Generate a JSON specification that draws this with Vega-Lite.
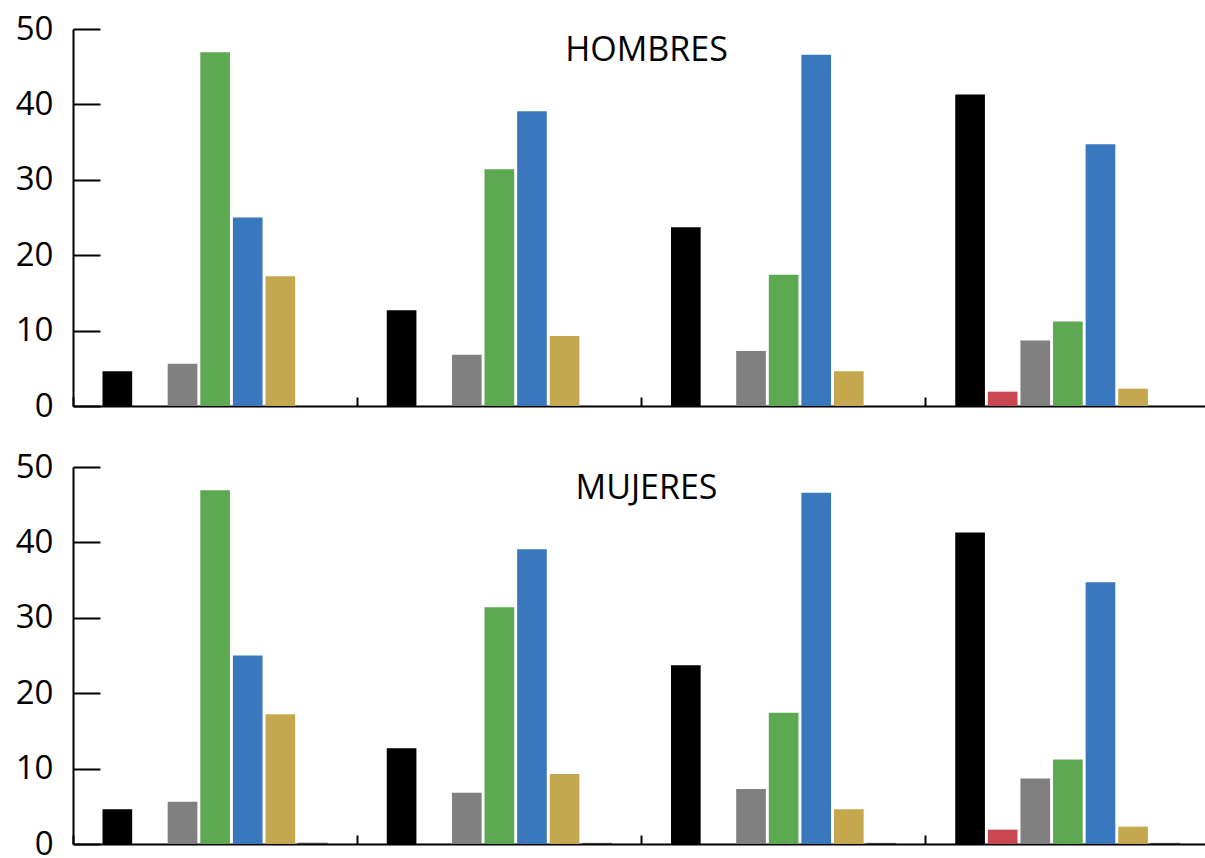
{
  "$schema": "https://vega.github.io/schema/vega-lite/v6.json",
  "padding": {"left": 15, "top": 13, "right": 0, "bottom": 0},
  "background": "white",
  "config": {
    "view": {"stroke": null},
    "font": "Open Sans",
    "concat": {"spacing": 28},
    "axis": {"domainColor": "black", "tickColor": "black", "labelColor": "black", "domainWidth": 2, "tickWidth": 2, "grid": false}
  },
  "datasets": {
    "d": [
      {"panel": "HOMBRES", "grupo": "G1", "cat": "A", "valor": 4.6},
      {"panel": "HOMBRES", "grupo": "G1", "cat": "B", "valor": 0},
      {"panel": "HOMBRES", "grupo": "G1", "cat": "C", "valor": 5.6},
      {"panel": "HOMBRES", "grupo": "G1", "cat": "D", "valor": 46.9},
      {"panel": "HOMBRES", "grupo": "G1", "cat": "E", "valor": 25.0},
      {"panel": "HOMBRES", "grupo": "G1", "cat": "F", "valor": 17.2},
      {"panel": "HOMBRES", "grupo": "G1", "cat": "G", "valor": 0},
      {"panel": "HOMBRES", "grupo": "G2", "cat": "A", "valor": 12.7},
      {"panel": "HOMBRES", "grupo": "G2", "cat": "B", "valor": 0},
      {"panel": "HOMBRES", "grupo": "G2", "cat": "C", "valor": 6.8},
      {"panel": "HOMBRES", "grupo": "G2", "cat": "D", "valor": 31.4},
      {"panel": "HOMBRES", "grupo": "G2", "cat": "E", "valor": 39.1},
      {"panel": "HOMBRES", "grupo": "G2", "cat": "F", "valor": 9.3},
      {"panel": "HOMBRES", "grupo": "G2", "cat": "G", "valor": 0},
      {"panel": "HOMBRES", "grupo": "G3", "cat": "A", "valor": 23.7},
      {"panel": "HOMBRES", "grupo": "G3", "cat": "B", "valor": 0},
      {"panel": "HOMBRES", "grupo": "G3", "cat": "C", "valor": 7.3},
      {"panel": "HOMBRES", "grupo": "G3", "cat": "D", "valor": 17.4},
      {"panel": "HOMBRES", "grupo": "G3", "cat": "E", "valor": 46.6},
      {"panel": "HOMBRES", "grupo": "G3", "cat": "F", "valor": 4.6},
      {"panel": "HOMBRES", "grupo": "G3", "cat": "G", "valor": 0},
      {"panel": "HOMBRES", "grupo": "G4", "cat": "A", "valor": 41.3},
      {"panel": "HOMBRES", "grupo": "G4", "cat": "B", "valor": 1.9},
      {"panel": "HOMBRES", "grupo": "G4", "cat": "C", "valor": 8.7},
      {"panel": "HOMBRES", "grupo": "G4", "cat": "D", "valor": 11.2},
      {"panel": "HOMBRES", "grupo": "G4", "cat": "E", "valor": 34.7},
      {"panel": "HOMBRES", "grupo": "G4", "cat": "F", "valor": 2.3},
      {"panel": "HOMBRES", "grupo": "G4", "cat": "G", "valor": 0},
      {"panel": "MUJERES", "grupo": "G1", "cat": "A", "valor": 4.6},
      {"panel": "MUJERES", "grupo": "G1", "cat": "B", "valor": 0},
      {"panel": "MUJERES", "grupo": "G1", "cat": "C", "valor": 5.6},
      {"panel": "MUJERES", "grupo": "G1", "cat": "D", "valor": 46.9},
      {"panel": "MUJERES", "grupo": "G1", "cat": "E", "valor": 25.0},
      {"panel": "MUJERES", "grupo": "G1", "cat": "F", "valor": 17.2},
      {"panel": "MUJERES", "grupo": "G1", "cat": "G", "valor": 0.15},
      {"panel": "MUJERES", "grupo": "G2", "cat": "A", "valor": 12.7},
      {"panel": "MUJERES", "grupo": "G2", "cat": "B", "valor": 0},
      {"panel": "MUJERES", "grupo": "G2", "cat": "C", "valor": 6.8},
      {"panel": "MUJERES", "grupo": "G2", "cat": "D", "valor": 31.4},
      {"panel": "MUJERES", "grupo": "G2", "cat": "E", "valor": 39.1},
      {"panel": "MUJERES", "grupo": "G2", "cat": "F", "valor": 9.3},
      {"panel": "MUJERES", "grupo": "G2", "cat": "G", "valor": 0.15},
      {"panel": "MUJERES", "grupo": "G3", "cat": "A", "valor": 23.7},
      {"panel": "MUJERES", "grupo": "G3", "cat": "B", "valor": 0},
      {"panel": "MUJERES", "grupo": "G3", "cat": "C", "valor": 7.3},
      {"panel": "MUJERES", "grupo": "G3", "cat": "D", "valor": 17.4},
      {"panel": "MUJERES", "grupo": "G3", "cat": "E", "valor": 46.6},
      {"panel": "MUJERES", "grupo": "G3", "cat": "F", "valor": 4.6},
      {"panel": "MUJERES", "grupo": "G3", "cat": "G", "valor": 0.15},
      {"panel": "MUJERES", "grupo": "G4", "cat": "A", "valor": 41.3},
      {"panel": "MUJERES", "grupo": "G4", "cat": "B", "valor": 1.9},
      {"panel": "MUJERES", "grupo": "G4", "cat": "C", "valor": 8.7},
      {"panel": "MUJERES", "grupo": "G4", "cat": "D", "valor": 11.2},
      {"panel": "MUJERES", "grupo": "G4", "cat": "E", "valor": 34.7},
      {"panel": "MUJERES", "grupo": "G4", "cat": "F", "valor": 2.3},
      {"panel": "MUJERES", "grupo": "G4", "cat": "G", "valor": 0.15}
    ]
  },
  "vconcat": [
    {
      "data": {"name": "d"},
      "transform": [{"filter": "datum.panel === 'HOMBRES'"}],
      "title": {"text": "HOMBRES", "offset": -55, "fontSize": 34, "fontWeight": "normal", "color": "black", "font": "Open Sans", "dx": 5},
      "width": 1137,
      "height": 377,
      "mark": {"type": "bar"},
      "encoding": {
        "x": {"field": "grupo", "type": "nominal", "sort": null,
              "scale": {"paddingInner": 0, "paddingOuter": 0},
              "axis": {"title": null, "labels": false, "bandPosition": 0, "tickSize": -9}},
        "xOffset": {"field": "cat", "type": "nominal",
                    "scale": {"domain": ["A", "B", "C", "D", "E", "F", "G"], "paddingInner": 0.09, "paddingOuter": 0.905}},
        "y": {"field": "valor", "type": "quantitative",
              "scale": {"domain": [0, 50], "nice": false},
              "axis": {"title": null, "values": [0, 10, 20, 30, 40, 50], "tickSize": -27, "labelPadding": 47, "labelFontSize": 33}},
        "color": {"field": "cat", "type": "nominal", "legend": null,
                  "scale": {"domain": ["A", "B", "C", "D", "E", "F", "G"],
                            "range": ["#000000", "#c84750", "#808080", "#5da952", "#3a78bd", "#c4a84f", "#404040"]}}
      }
    },
    {
      "data": {"name": "d"},
      "transform": [{"filter": "datum.panel === 'MUJERES'"}],
      "title": {"text": "MUJERES", "offset": -55, "fontSize": 34, "fontWeight": "normal", "color": "black", "font": "Open Sans", "dx": 5},
      "width": 1137,
      "height": 377,
      "mark": {"type": "bar"},
      "encoding": {
        "x": {"field": "grupo", "type": "nominal", "sort": null,
              "scale": {"paddingInner": 0, "paddingOuter": 0},
              "axis": {"title": null, "labels": false, "bandPosition": 0, "tickSize": -9}},
        "xOffset": {"field": "cat", "type": "nominal",
                    "scale": {"domain": ["A", "B", "C", "D", "E", "F", "G"], "paddingInner": 0.09, "paddingOuter": 0.905}},
        "y": {"field": "valor", "type": "quantitative",
              "scale": {"domain": [0, 50], "nice": false},
              "axis": {"title": null, "values": [0, 10, 20, 30, 40, 50], "tickSize": -27, "labelPadding": 47, "labelFontSize": 33}},
        "color": {"field": "cat", "type": "nominal", "legend": null,
                  "scale": {"domain": ["A", "B", "C", "D", "E", "F", "G"],
                            "range": ["#000000", "#c84750", "#808080", "#5da952", "#3a78bd", "#c4a84f", "#404040"]}}
      }
    }
  ]
}
